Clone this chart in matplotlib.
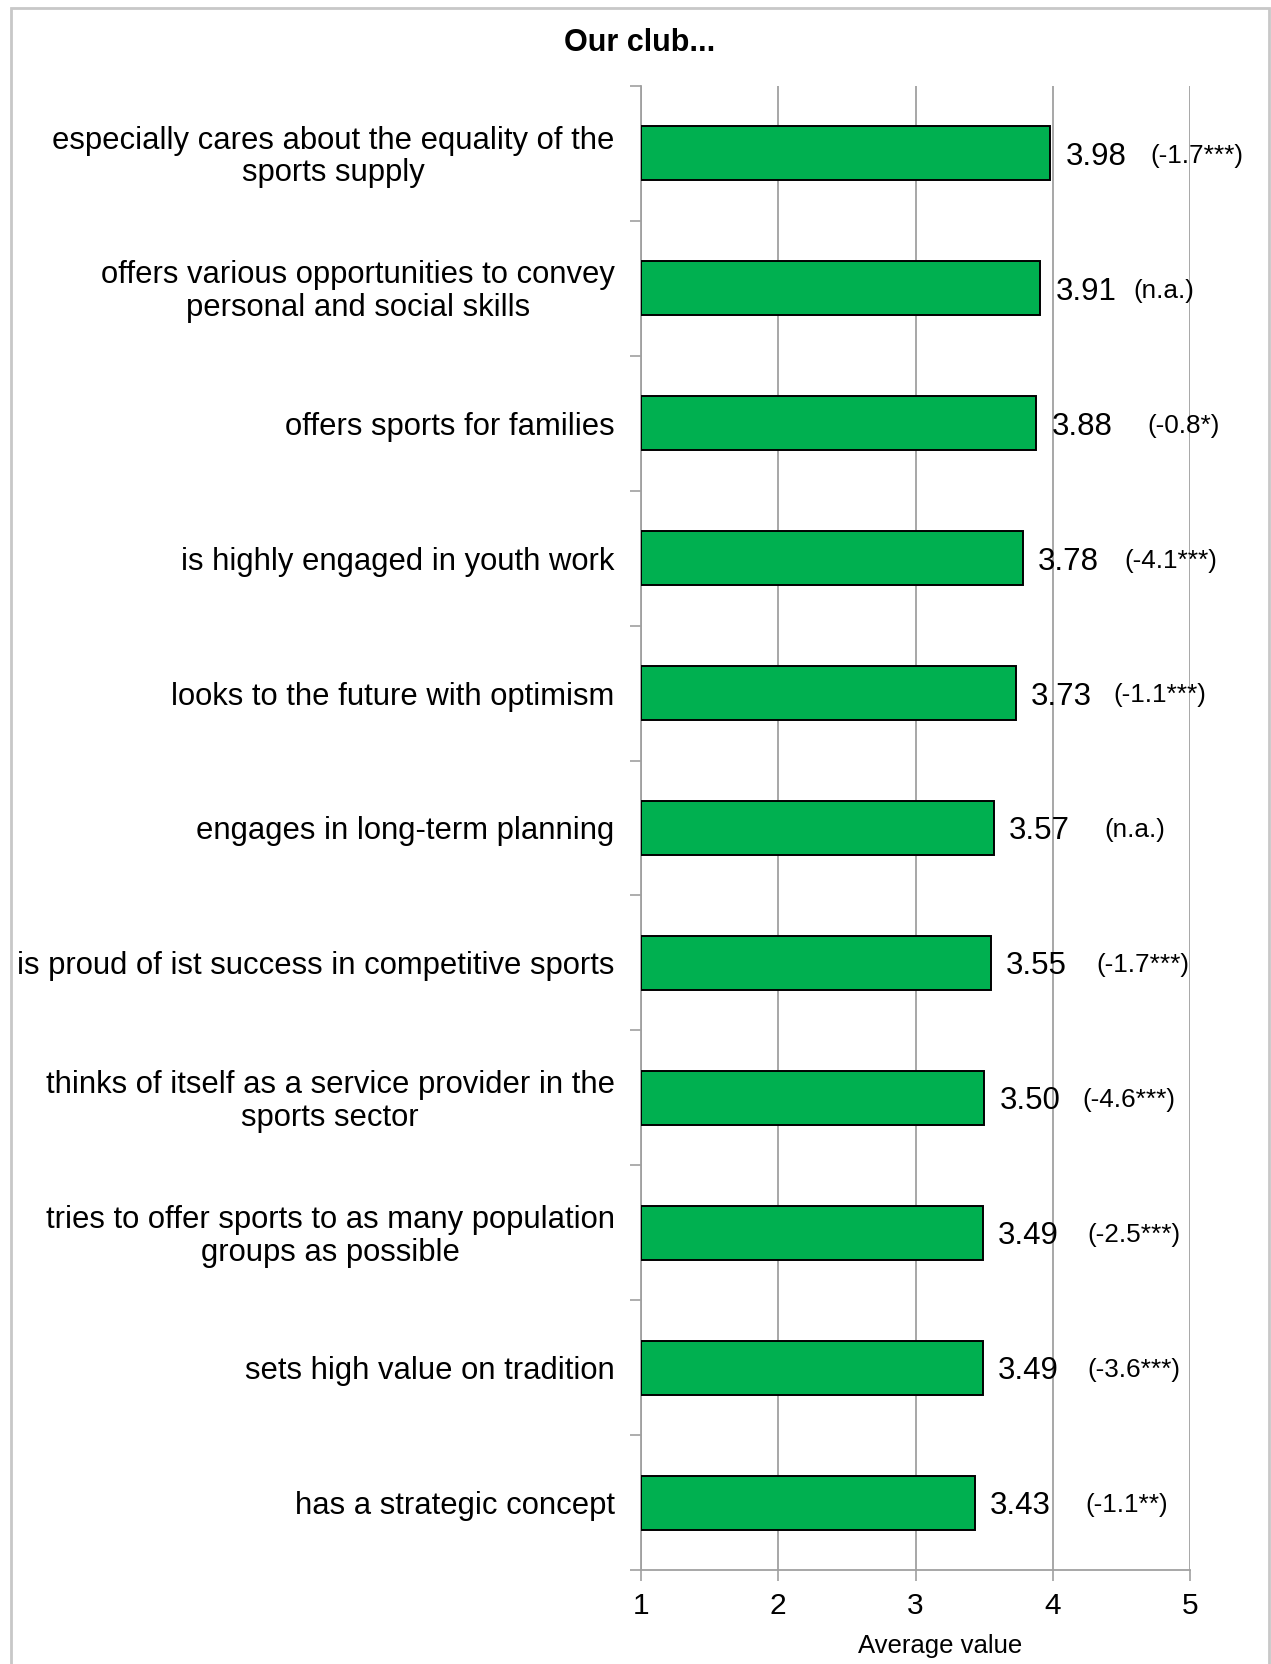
import matplotlib.pyplot as plt
from matplotlib.patches import Rectangle
import numpy as np

plt.rcParams['font.family'] = ['Liberation Sans', 'DejaVu Sans']

# statements, top to bottom
statements = [
    "especially cares about the equality of the\nsports supply",
    "offers various opportunities to convey\npersonal and social skills",
    "offers sports for families",
    "is highly engaged in youth work",
    "looks to the future with optimism",
    "engages in long-term planning",
    "is proud of ist success in competitive sports",
    "thinks of itself as a service provider in the\nsports sector",
    "tries to offer sports to as many population\ngroups as possible",
    "sets high value on tradition",
    "has a strategic concept",
]
avg_values = [3.98, 3.91, 3.88, 3.78, 3.73, 3.57, 3.55, 3.50, 3.49, 3.49, 3.43]
changes = ["(-1.7***)", "(n.a.)", "(-0.8*)", "(-4.1***)", "(-1.1***)", "(n.a.)",
           "(-1.7***)", "(-4.6***)", "(-2.5***)", "(-3.6***)", "(-1.1**)"]
x_ticks = [1, 2, 3, 4, 5]

# horizontal gap (points) between bar end and the change note
note_gap = [72, 67, 80, 73, 70, 80, 76, 71, 75, 75, 80]

W, H = 1271, 1665
fig = plt.figure(figsize=(W / 100, H / 100), dpi=100)
ax = fig.add_axes([641 / W, 1 - 1571 / H, (1190 - 641) / W, (1571 - 87) / H])

grey = '#a0a0a0'
ypos = np.arange(len(statements))
ax.barh(ypos, np.array(avg_values) - 1, left=1, height=0.4, color='#00b050',
        edgecolor='black', linewidth=1.4, zorder=3)

ax.set_xlim(1, 5)
ax.set_ylim(len(statements) - 0.5, -0.5)
ax.set_xticks(x_ticks)
ax.set_xticklabels([str(t) for t in x_ticks], fontsize=21.5)
ax.xaxis.grid(True, color=grey, linewidth=1.3, zorder=0)
ax.set_axisbelow(True)

# category boundary ticks, labels drawn separately
ax.set_yticks(np.arange(-0.5, len(statements), 1.0))
ax.set_yticklabels([])
ax.tick_params(axis='y', length=8, width=1.2, color=grey, direction='out')
ax.tick_params(axis='x', length=8, width=1.2, color=grey, direction='out', pad=7)

for s in ['top', 'right']:
    ax.spines[s].set_visible(False)
for s in ['left', 'bottom']:
    ax.spines[s].set_color(grey)
    ax.spines[s].set_linewidth(1.3)

for y, label in zip(ypos, statements):
    ax.annotate(label, xy=(0, y), xycoords=('axes fraction', 'data'),
                xytext=(-19, -1.8), textcoords='offset points', ha='right',
                va='center', multialignment='center', fontsize=22.3,
                linespacing=1.12)

for y, v, note, gap in zip(ypos, avg_values, changes, note_gap):
    ax.annotate(f"{v:.2f}", xy=(v, y), xytext=(11, -1.8), textcoords='offset points',
                ha='left', va='center', fontsize=22.5, zorder=4)
    ax.annotate(note, xy=(v, y), xytext=(gap, -1), textcoords='offset points',
                ha='left', va='center', fontsize=18.8, zorder=4)

fig.text(640 / W, 1 - 43 / H, "Our club...", ha='center', va='center',
         fontsize=22, fontweight='bold')
fig.text(940 / W, 1 - 1646 / H, "Average value", ha='center', va='center',
         fontsize=18.5)

# chart border
fig.patches.append(Rectangle((11 / W, -0.05), (1269 - 11) / W, 1.05 - 9 / H,
                             transform=fig.transFigure, fill=False,
                             edgecolor='#c8c8c8', linewidth=2))

fig.savefig('out.png', dpi=100)
